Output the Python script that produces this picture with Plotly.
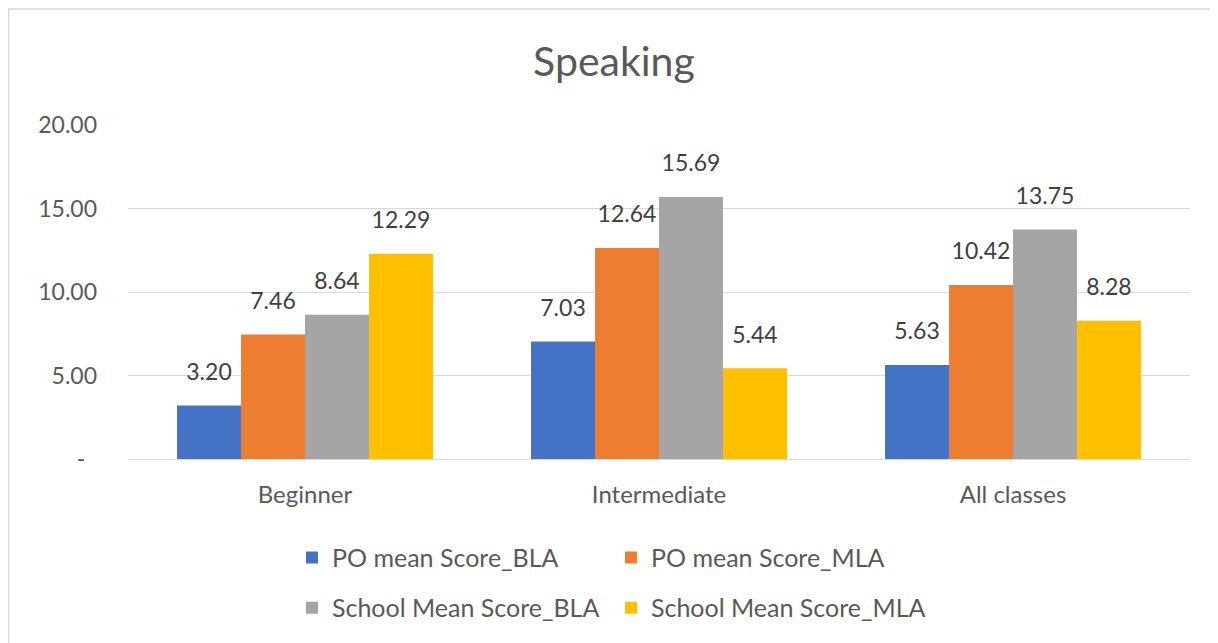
import plotly.graph_objects as go

categories = ["Beginner", "Intermediate", "All classes"]
po_bla = [3.20, 7.03, 5.63]
po_mla = [7.46, 12.64, 10.42]
school_bla = [8.64, 15.69, 13.75]
school_mla = [12.29, 5.44, 8.28]
series_names = ["PO mean Score_BLA", "PO mean Score_MLA", "School Mean Score_BLA", "School Mean Score_MLA"]
colors = ["#4472C4", "#ED7D31", "#A5A5A5", "#FFC000"]
tick_vals = [0, 5, 10, 15, 20]
tick_text = ["-\u00a0\u00a0", "5.00", "10.00", "15.00", "20.00"]

FONT = "Lato"
fig = go.Figure()
series = [po_bla, po_mla, school_bla, school_mla]
for i, (name, vals, col) in enumerate(zip(series_names, series, colors)):
    fig.add_trace(go.Bar(
        x=categories, y=vals, name=name, marker=dict(color=col, line=dict(width=0)),
        offsetgroup=str(i),
        legend="legend" if i < 2 else "legend2",
    ))
for i, vals in enumerate(series):
    fig.add_trace(go.Scatter(
        x=categories, y=vals, mode="markers+text", offsetgroup=str(i),
        marker=dict(size=30, opacity=0), texttemplate="%{y:.2f}", textposition="top center",
        textfont=dict(family=FONT, size=23, color="#404040"),
        showlegend=False, hoverinfo="skip", cliponaxis=False,
    ))

fig.update_layout(
    width=1218, height=643,
    margin=dict(l=120, r=36, t=117, b=192),
    paper_bgcolor="white", plot_bgcolor="white",
    barmode="group", bargap=0.277, bargroupgap=0,
    scattermode="group", scattergap=0.277,
    title=dict(text="Speaking", x=0.4975, xref="container", y=0.916, yref="container",
               xanchor="center", yanchor="middle",
               font=dict(family=FONT, size=41, color="#595959")),
    font=dict(family=FONT, color="#595959"),
    legend=dict(orientation="h", x=0.1544, y=-0.296, xanchor="left", yanchor="middle",
                font=dict(family=FONT, size=25, color="#595959"), itemwidth=30,
                entrywidth=274, bgcolor="rgba(0,0,0,0)"),
    legend2=dict(orientation="h", x=0.1544, y=-0.446, xanchor="left", yanchor="middle",
                 font=dict(family=FONT, size=25, color="#595959"), itemwidth=30,
                 entrywidth=274, bgcolor="rgba(0,0,0,0)"),
    xaxis=dict(showgrid=False, showline=True, linecolor="#D9D9D9", linewidth=1,
               ticks="", tickfont=dict(family=FONT, size=24, color="#595959"),
               ticklabelstandoff=14),
    yaxis=dict(range=[0, 20], tickvals=tick_vals, ticktext=tick_text,
               showgrid=True, gridcolor="#D9D9D9", gridwidth=1, zeroline=False,
               showline=False, ticks="", ticklabelstandoff=30,
               tickfont=dict(family=FONT, size=23, color="#595959")),
    shapes=[dict(type="rect", xref="paper", yref="paper", x0=-0.1125, x1=1.2, y0=-0.7, y1=1.347,
                 line=dict(color="#D9D9D9", width=1.5), fillcolor="rgba(0,0,0,0)", layer="below")],
)

fig.write_html("out.html")
